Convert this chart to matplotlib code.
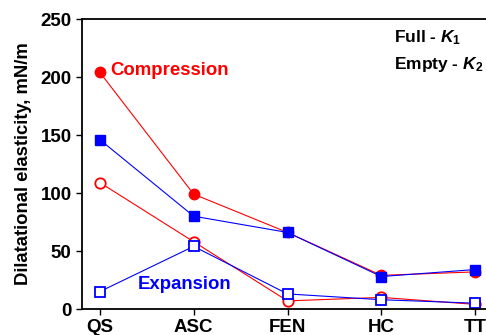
import matplotlib
matplotlib.use("Agg")
import matplotlib.pyplot as plt

plt.rcParams["font.family"] = ["Liberation Sans", "DejaVu Sans"]
plt.rcParams["font.weight"] = "bold"
plt.rcParams["mathtext.fontset"] = "custom"
plt.rcParams["mathtext.it"] = "Liberation Sans:italic:bold"
plt.rcParams["mathtext.rm"] = "Liberation Sans:bold"

categories = ["QS", "ASC", "FEN", "HC", "TT"]
full_compression = [204, 99, 66, 29, 32]
full_expansion = [146, 80, 66, 28, 34]
empty_compression = [109, 58, 7, 10, 4]
empty_expansion = [15, 54, 13, 8, 5]

x = list(range(len(categories)))

fig = plt.figure(figsize=(4.86, 3.35), dpi=100)
ax = fig.add_axes([82 / 486, 26 / 335, (493 - 82) / 486, (309 - 19) / 335])

ax.plot(x, full_compression, color="red", lw=0.8, marker="o", ms=7.5,
        mfc="red", mec="red")
ax.plot(x, empty_compression, color="red", lw=0.8, marker="o", ms=7.5,
        mfc="white", mec="red", mew=1.3)
ax.plot(x, full_expansion, color="blue", lw=0.8, marker="s", ms=7,
        mfc="blue", mec="blue")
ax.plot(x, empty_expansion, color="blue", lw=0.8, marker="s", ms=7,
        mfc="white", mec="blue", mew=1.3)

ax.set_xlim(-0.19, 4.19)
ax.set_ylim(0, 250)
ax.set_yticks([0, 50, 100, 150, 200, 250])
ax.set_xticks(x)
ax.set_xticklabels(categories)
ax.tick_params(labelsize=13.5, direction="out", length=4, width=1)
ax.set_ylabel("Dilatational elasticity, mN/m", fontsize=13.3,
              fontweight="bold", labelpad=6)
for s in ax.spines.values():
    s.set_linewidth(1.3)

ax.text(0.11, 206, "Compression", color="red", fontsize=13.4,
        fontweight="bold", va="center", ha="left")
ax.text(0.9, 21.5, "Expansion", color="blue", fontsize=13.4,
        fontweight="bold", va="center", ha="center")
ax.text(3.13, 234, r"Full - $K_1$", fontsize=12.5, fontweight="bold",
        va="center", ha="left")
ax.text(3.13, 211, r"Empty - $K_2$", fontsize=12.5, fontweight="bold",
        va="center", ha="left")

fig.savefig("out.png", dpi=100)
